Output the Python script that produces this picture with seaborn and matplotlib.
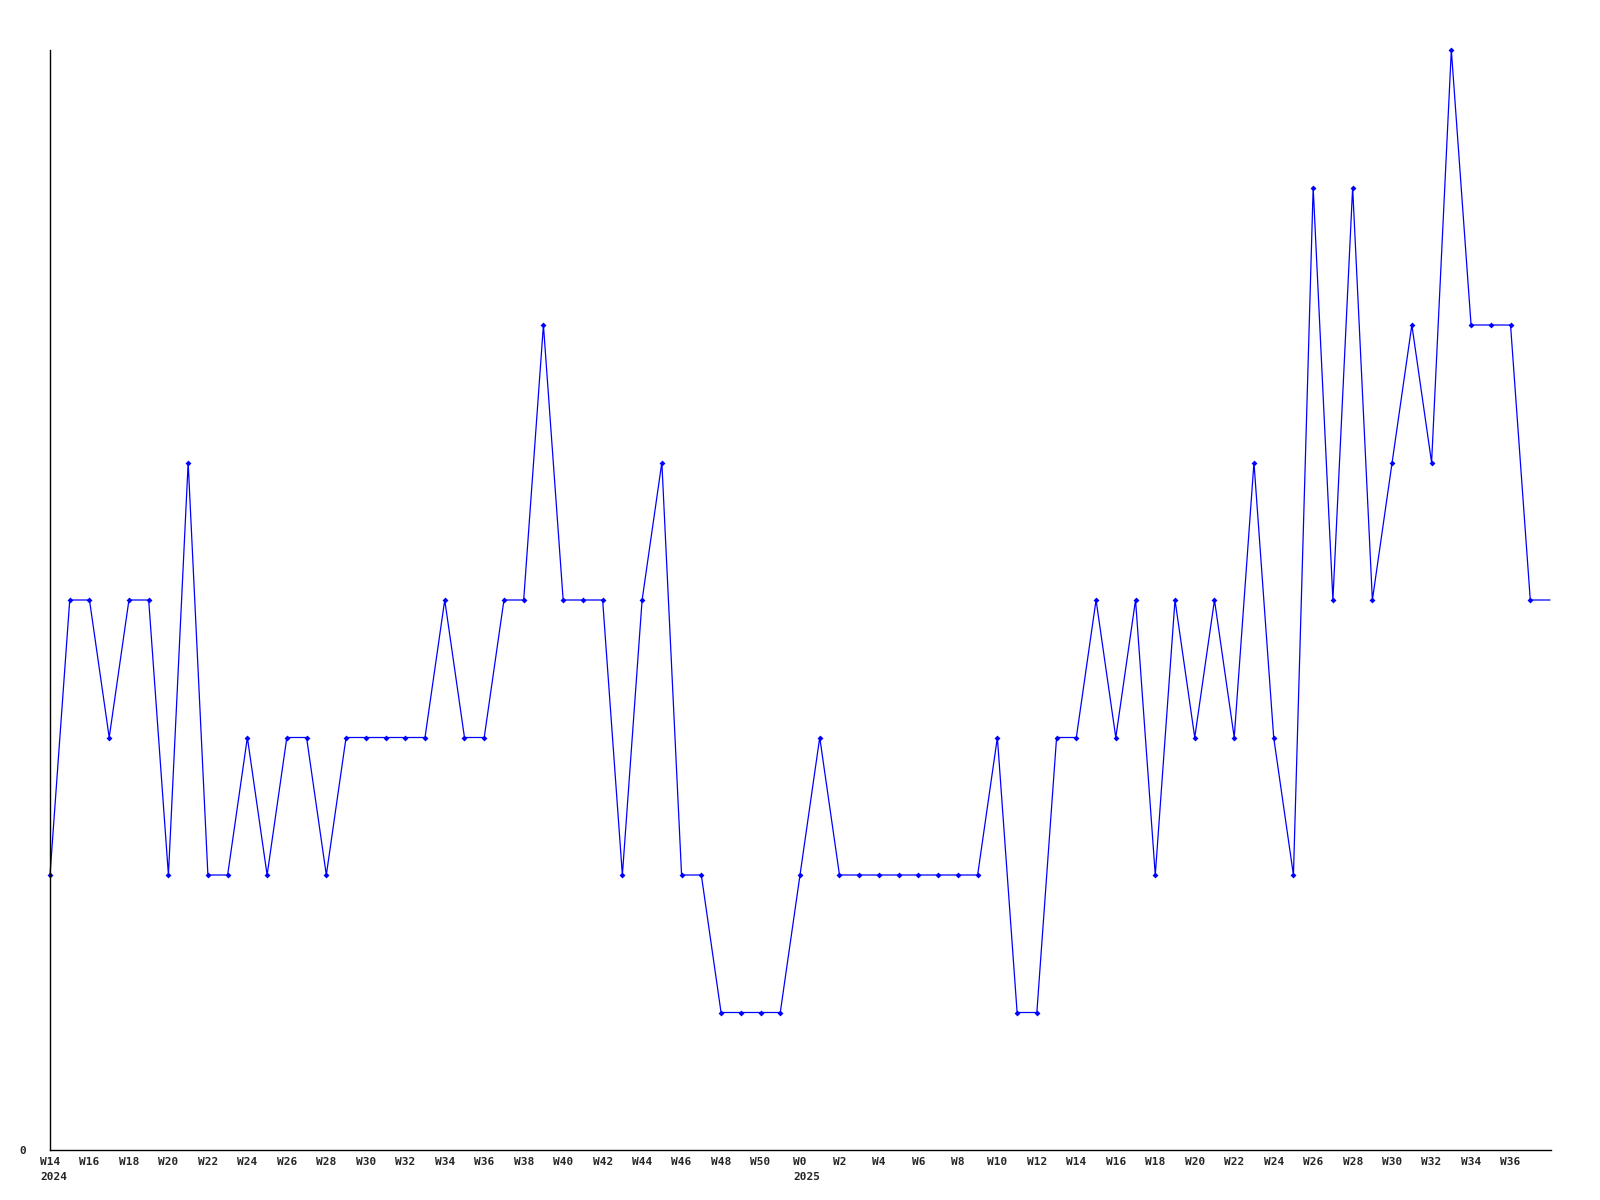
import pandas as pd
import matplotlib
matplotlib.use("Agg")
import matplotlib.pyplot as plt
import matplotlib.transforms as mtransforms
import seaborn as sns

# weekly counts, W14 2024 .. W38 2025
weeks_2024 = list(range(14, 52))
weeks_2025 = list(range(0, 39))
values = [2, 4, 4, 3, 4, 4, 2, 5, 2, 2, 3, 2, 3, 3, 2, 3, 3, 3, 3, 3,
          4, 3, 3, 4, 4, 6, 4, 4, 4, 2, 4, 5, 2, 2, 1, 1, 1, 1,
          2, 3, 2, 2, 2, 2, 2, 2, 2, 2, 3, 1, 1, 3, 3, 4, 3, 4, 2, 4,
          3, 4, 3, 5, 3, 2, 7, 4, 7, 4, 5, 6, 5, 8, 6, 6, 6, 4, 4]
years = ["2024", "2025"]

labels = ["W%d" % w for w in weeks_2024] + ["W%d" % w for w in weeks_2025]
df = pd.DataFrame({"idx": range(len(values)), "week": labels, "count": values})

sns.set_style("white")
plt.rcParams["font.family"] = ["DejaVu Sans Mono"]
plt.rcParams["font.weight"] = "bold"
plt.rcParams["font.size"] = 8

fig = plt.figure(figsize=(16, 12), dpi=100)
ax = fig.add_axes([50 / 1600, 50 / 1200, 1501 / 1600, 1100 / 1200])

# last point sits on the right edge, no marker there
sns.lineplot(data=df, x="idx", y="count", ax=ax, color="#0000ff", linewidth=0.9,
             marker="D", markersize=3, markeredgewidth=0,
             markevery=list(range(len(values) - 1)))
for l in ax.lines:
    l.set_clip_on(False)

ax.set_xlim(0, len(values) - 1 + 0.05)
ax.set_ylim(0, 8)

ticks = list(range(0, len(values) - 1, 2))
ax.set_xticks(ticks)
ax.set_xticklabels([labels[i] for i in ticks])
ax.set_yticks([0])
ax.set_yticklabels(["0"])
ax.tick_params(axis="x", length=0, pad=5)
ax.tick_params(axis="y", length=0, pad=17)
ax.set_xlabel("")
ax.set_ylabel("")

for s in ["top", "right"]:
    ax.spines[s].set_visible(False)
for s in ["left", "bottom"]:
    ax.spines[s].set_color("black")
    ax.spines[s].set_linewidth(1)

# year labels under the first week of each year
char_w = 6.7 * 72 / 100
trans = mtransforms.blended_transform_factory(ax.transData, ax.transAxes)
for yr, i in zip(years, [0, len(weeks_2024)]):
    ax.annotate(yr, xy=(i, 0), xycoords=trans,
                xytext=(-len(labels[i]) * char_w / 2, -16), textcoords="offset points",
                ha="left", va="top", fontsize=8, fontweight="bold")

fig.savefig("out.png", dpi=100)
